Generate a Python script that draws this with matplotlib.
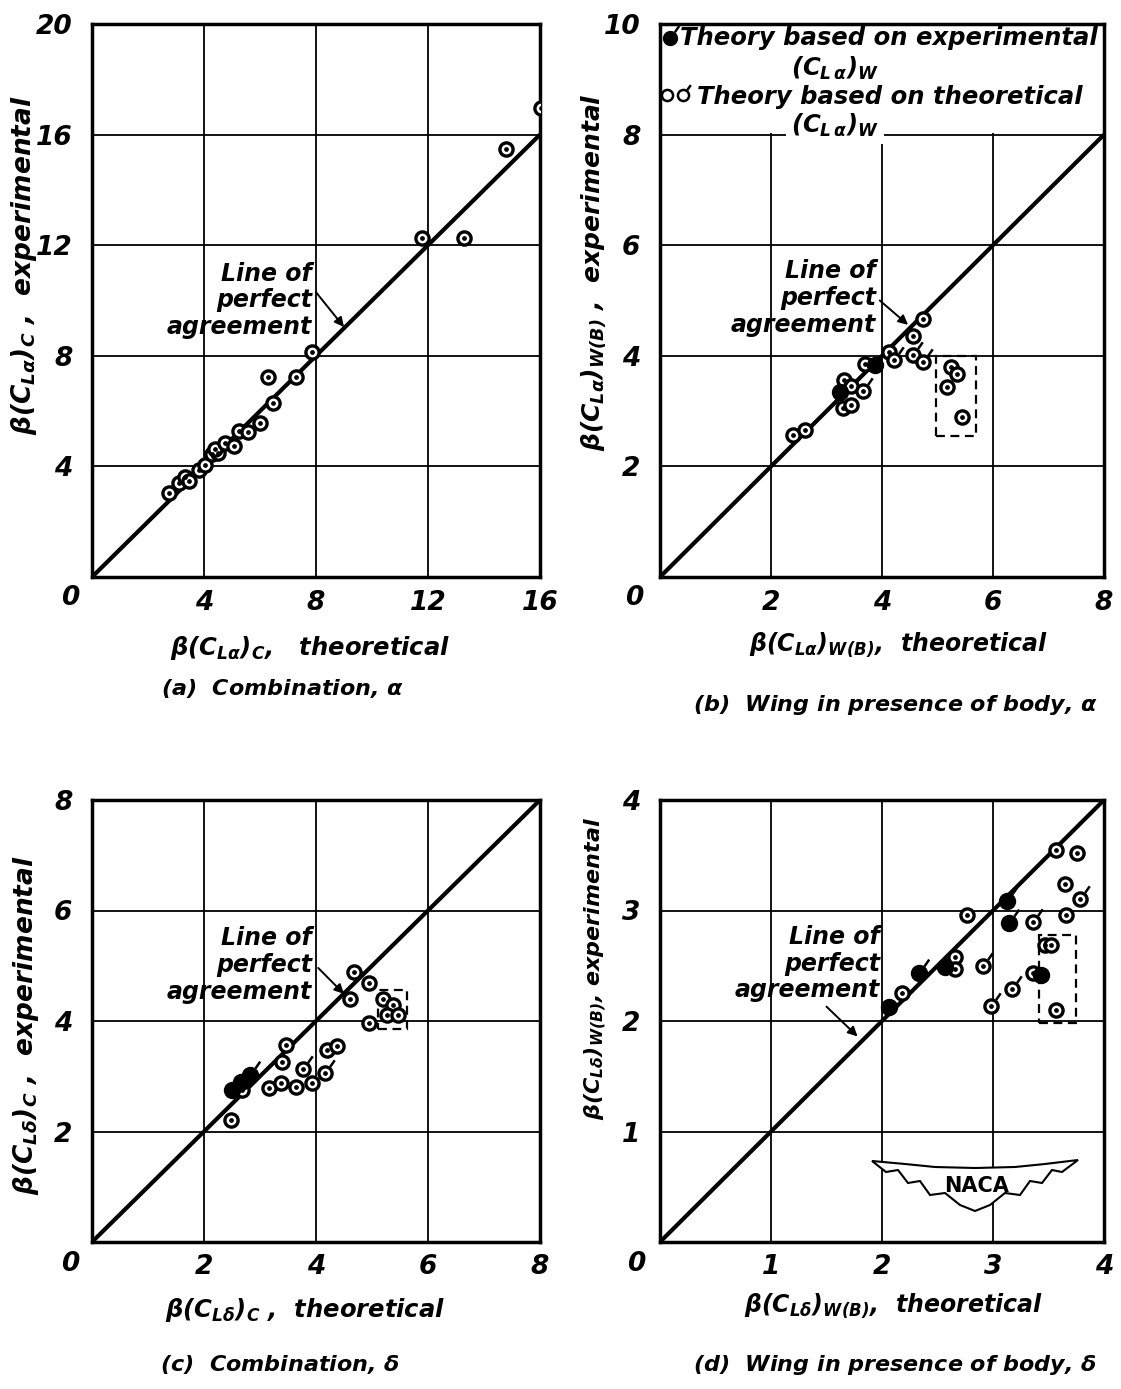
import numpy as np
import matplotlib
matplotlib.use("Agg")
import matplotlib.pyplot as plt
from matplotlib.path import Path
from matplotlib.patches import Rectangle, Polygon

plt.rcParams['font.family'] = ['DejaVu Sans']
plt.rcParams['font.style'] = 'italic'
plt.rcParams['font.weight'] = 'bold'
plt.rcParams['mathtext.fontset'] = 'custom'
plt.rcParams['mathtext.rm'] = 'DejaVu Sans:italic:bold'
plt.rcParams['mathtext.it'] = 'DejaVu Sans:italic:bold'
plt.rcParams['mathtext.bf'] = 'DejaVu Sans:italic:bold'

# ---------------- data ----------------
# (a) Combination, alpha
a_theo = [2.74, 3.12, 3.31, 3.45, 3.81, 4.05, 4.29, 4.50, 4.38, 4.76, 5.06, 5.24, 5.57,
          5.99, 6.27, 6.46, 7.29, 7.86, 11.77, 13.29, 14.77, 16.04]
a_exp = [3.05, 3.41, 3.63, 3.47, 3.87, 4.05, 4.45, 4.47, 4.62, 4.86, 4.75, 5.29, 5.24,
         5.56, 7.22, 6.28, 7.25, 8.15, 12.25, 12.25, 15.48, 16.95]

# (b) Wing in presence of body, alpha
b_open_theo = [2.40, 2.62, 3.30, 3.44, 3.32, 3.45, 3.65, 3.70, 4.13, 4.22, 4.55, 4.74,
               4.55, 4.74, 5.24, 5.36, 5.17, 5.45]
b_open_exp = [2.57, 2.66, 3.05, 3.11, 3.56, 3.45, 3.37, 3.85, 4.07, 3.92, 4.01, 3.88,
              4.35, 4.66, 3.80, 3.67, 3.44, 2.90]
b_open_flag = [0, 0, 0, 0, 0, 0, 1, 0, 0, 1, 1, 1, 0, 0, 0, 0, 0, 0]
b_fill_theo = [3.24, 3.87]
b_fill_exp = [3.35, 3.83]
b_fill_flag = [1, 0]
b_box = [4.98, 2.55, 5.69, 4.00]   # x0, y0, x1, y1

# (c) Combination, delta
c_open_theo = [2.49, 2.67, 3.39, 3.46, 3.16, 3.38, 3.65, 3.77, 3.92, 4.16, 4.19, 4.37,
               4.60, 4.67, 4.95, 4.95, 5.20, 5.37, 5.27, 5.47]
c_open_exp = [2.20, 2.76, 3.26, 3.57, 2.78, 2.87, 2.80, 3.13, 2.87, 3.06, 3.48, 3.55,
              4.40, 4.89, 4.69, 3.97, 4.40, 4.29, 4.10, 4.10]
c_open_flag = [0, 0, 0, 0, 0, 0, 0, 1, 0, 1, 0, 0, 0, 0, 0, 0, 0, 0, 0, 0]
c_fill_theo = [2.50, 2.66, 2.82]
c_fill_exp = [2.76, 2.90, 3.03]
c_fill_flag = [0, 0, 1]
c_box = [5.11, 3.85, 5.62, 4.56]

# (d) Wing in presence of body, delta
d_open_theo = [2.18, 2.66, 2.66, 2.77, 2.91, 2.98, 3.17, 3.36, 3.57, 3.76, 3.65, 3.78,
               3.66, 3.47, 3.52, 3.36, 3.57]
d_open_exp = [2.25, 2.58, 2.47, 2.96, 2.50, 2.14, 2.29, 2.90, 3.55, 3.52, 3.24, 3.10,
              2.96, 2.69, 2.69, 2.43, 2.10]
d_open_flag = [0, 0, 0, 0, 1, 1, 1, 1, 0, 0, 0, 1, 0, 0, 0, 0, 0]
d_fill_theo = [2.06, 2.33, 2.57, 3.13, 3.14, 3.43]
d_fill_exp = [2.13, 2.43, 2.49, 3.09, 2.89, 2.42]
d_fill_flag = [0, 1, 0, 1, 1, 0]
d_box = [3.41, 1.98, 3.75, 2.78]

# ---------------- layout helpers ----------------
W, H = 1121, 1389
fig = plt.figure(figsize=(W / 100, H / 100), dpi=100)


def fx(px):
    return px / W


def fy(py):
    return 1 - py / H


TICK_FS = 19
LAB_FS = 17.5
CAP_FS = 16
ANN_FS = 17

FLAG = Path([(0.35, 0.5), (0.70, 1.0)], [Path.MOVETO, Path.LINETO])


def setup(ax, lim_x, lim_y, step_x, step_y, diag_max):
    ax.set_xlim(0, lim_x)
    ax.set_ylim(0, lim_y)
    xt = np.arange(0, lim_x + 0.001, step_x)
    yt = np.arange(0, lim_y + 0.001, step_y)
    ax.set_xticks(xt)
    ax.set_yticks(yt)
    ax.set_xticklabels([""] + ["%g" % v for v in xt[1:]])
    ax.set_yticklabels([""] + ["%g" % v for v in yt[1:]])
    ax.tick_params(length=0, labelsize=TICK_FS)
    ax.tick_params(axis='x', pad=9)
    ax.tick_params(axis='y', pad=14)
    ax.grid(True, color='black', lw=1.3)
    ax.set_axisbelow(True)
    for s in ax.spines.values():
        s.set_linewidth(2.5)
    ax.plot([0, diag_max], [0, diag_max], color='black', lw=3, zorder=2,
            solid_capstyle='butt')


def draw_open(ax, xs, ys, flags=None):
    ax.plot(xs, ys, 'o', ms=9.5, mfc='white', mec='black', mew=2.4, zorder=4)
    ax.plot(xs, ys, 'o', ms=2.4, color='black', zorder=5)
    if flags is not None:
        fxs = [x for x, f in zip(xs, flags) if f]
        fys = [y for y, f in zip(ys, flags) if f]
        ax.plot(fxs, fys, ls='none', marker=FLAG, ms=19, mfc='none', mec='black',
                mew=1.8, zorder=4)


def draw_fill(ax, xs, ys, flags):
    ax.plot(xs, ys, 'o', ms=11.5, color='black', zorder=4)
    fxs = [x for x, f in zip(xs, flags) if f]
    fys = [y for y, f in zip(ys, flags) if f]
    ax.plot(fxs, fys, ls='none', marker=FLAG, ms=20, mfc='none', mec='black',
            mew=1.8, zorder=4)


def dashed_box(ax, box):
    x0, y0, x1, y1 = box
    ax.add_patch(Rectangle((x0, y0), x1 - x0, y1 - y0, fill=False, ls=(0, (4, 2.5)),
                           lw=1.6, ec='black', zorder=3))


def agreement(ax, txt_xy, start, tip):
    ax.text(txt_xy[0], txt_xy[1], "Line of\nperfect\nagreement", ha='right', va='center',
            multialignment='right', fontsize=ANN_FS, linespacing=1.15, zorder=6)
    ax.annotate("", xy=tip, xytext=start,
                arrowprops=dict(arrowstyle='-|>', lw=1.4, color='black',
                                mutation_scale=14, shrinkA=0, shrinkB=0), zorder=6)


# ---------------- panel (a) ----------------
axA = fig.add_axes([fx(92), fy(577), fx(540) - fx(92), fy(24) - fy(577)])
setup(axA, 16, 20, 4, 4, 16)
draw_open(axA, a_theo, a_exp)
agreement(axA, (7.86, 10.0), (8.0, 10.3), (9.0, 9.04))

# ---------------- panel (b) ----------------
axB = fig.add_axes([fx(660), fy(577), fx(1104) - fx(660), fy(24) - fy(577)])
setup(axB, 8, 10, 2, 2, 8)
axB.axhspan(8.03, 10, color='white', zorder=1.5, lw=0)
draw_open(axB, b_open_theo, b_open_exp, b_open_flag)
draw_fill(axB, b_fill_theo, b_fill_exp, b_fill_flag)
dashed_box(axB, b_box)
agreement(axB, (3.89, 5.05), (3.96, 5.0), (4.47, 4.56))

# legend of (b)
tr = axB.transAxes
LEG_FS = 17.5
axB.plot([0.022], [0.975], 'o', ms=10, color='black', transform=tr, clip_on=False, zorder=7)
axB.plot([0.022], [0.975], ls='none', marker=FLAG, ms=18, mfc='none', mec='black', mew=1.8,
         transform=tr, clip_on=False, zorder=7)
axB.text(0.045, 0.975, "Theory based on experimental", transform=tr, fontsize=LEG_FS,
         ha='left', va='center', zorder=7)
axB.text(0.394, 0.920, r"$(C_{L\,\alpha})_W$", transform=tr, fontsize=LEG_FS,
         ha='center', va='center', zorder=7)
axB.plot([0.015], [0.872], 'o', ms=8, mfc='white', mec='black', mew=1.8, transform=tr,
         clip_on=False, zorder=7)
axB.plot([0.052], [0.872], 'o', ms=8, mfc='white', mec='black', mew=1.8, transform=tr,
         clip_on=False, zorder=7)
axB.plot([0.052], [0.872], ls='none', marker=FLAG, ms=15, mfc='none', mec='black', mew=1.8,
         transform=tr, clip_on=False, zorder=7)
axB.text(0.083, 0.868, "Theory based on theoretical", transform=tr, fontsize=LEG_FS,
         ha='left', va='center', zorder=7)
axB.text(0.394, 0.816, r"$(C_{L\,\alpha})_W$", transform=tr, fontsize=LEG_FS,
         ha='center', va='center', zorder=7,
         bbox=dict(boxstyle='square,pad=0.2', fc='white', ec='none'))

# ---------------- panel (c) ----------------
axC = fig.add_axes([fx(92), fy(1242), fx(540) - fx(92), fy(800) - fy(1242)])
setup(axC, 8, 8, 2, 2, 8)
draw_open(axC, c_open_theo, c_open_exp, c_open_flag)
draw_fill(axC, c_fill_theo, c_fill_exp, c_fill_flag)
dashed_box(axC, c_box)
agreement(axC, (3.93, 5.01), (4.04, 4.96), (4.5, 4.49))

# ---------------- panel (d) ----------------
axD = fig.add_axes([fx(660), fy(1242), fx(1104) - fx(660), fy(800) - fy(1242)])
setup(axD, 4, 4, 1, 1, 4)
draw_open(axD, d_open_theo, d_open_exp, d_open_flag)
draw_fill(axD, d_fill_theo, d_fill_exp, d_fill_flag)
dashed_box(axD, d_box)
agreement(axD, (1.98, 2.52), (1.50, 2.13), (1.78, 1.86))

# NACA logo (decoration, axes-fraction coordinates)
logo_px = [(872, 1161), (905, 1164), (935, 1167), (975, 1168), (1015, 1167), (1045, 1164),
           (1078, 1160), (1062, 1172), (1052, 1170), (1042, 1183), (1030, 1181),
           (1020, 1195), (1005, 1193), (990, 1205), (975, 1211), (960, 1205), (945, 1193),
           (930, 1195), (920, 1181), (908, 1183), (898, 1170), (886, 1172)]
logo = [((px - 660) / 444, (1242 - py) / 442) for px, py in logo_px]
axD.add_patch(Polygon(logo, closed=True, fc='white', ec='black', lw=1.5,
                      transform=axD.transAxes, zorder=6))
axD.text((977 - 660) / 444, (1242 - 1186) / 442, "NACA", transform=axD.transAxes,
         fontsize=15, fontstyle='normal', fontweight='bold', ha='center', va='center',
         zorder=7)

# ---------------- corner zeros ----------------
for (px, py) in [(70, 598), (634, 598), (70, 1264), (636, 1264)]:
    fig.text(fx(px), fy(py), "0", fontsize=TICK_FS, ha='center', va='center')

# ---------------- axis labels ----------------
fig.text(fx(310), fy(648), r"$\beta(C_{L\alpha})_C$,   theoretical", fontsize=LAB_FS,
         ha='center', va='center')
fig.text(fx(898), fy(645), r"$\beta(C_{L\alpha})_{W(B)}$,  theoretical", fontsize=17,
         ha='center', va='center')
fig.text(fx(305), fy(1310), r"$\beta(C_{L\delta})_C$ ,  theoretical", fontsize=LAB_FS,
         ha='center', va='center')
fig.text(fx(893), fy(1306), r"$\beta(C_{L\delta})_{W(B)}$,  theoretical", fontsize=17,
         ha='center', va='center')

fig.text(fx(24), fy(265), r"$\beta(C_{L\alpha})_C$ ,  experimental", fontsize=19,
         ha='center', va='center', rotation=90)
fig.text(fx(594), fy(272), r"$\beta(C_{L\alpha})_{W(B)}$ ,  experimental", fontsize=18,
         ha='center', va='center', rotation=90)
fig.text(fx(26), fy(1025), r"$\beta(C_{L\delta})_C$ ,  experimental", fontsize=19,
         ha='center', va='center', rotation=90)
fig.text(fx(596), fy(968), r"$\beta(C_{L\delta})_{W(B)}$, experimental", fontsize=16,
         ha='center', va='center', rotation=90)

# ---------------- captions ----------------
fig.text(fx(283), fy(688), r"(a)  Combination, $\alpha$", fontsize=CAP_FS, ha='center',
         va='center')
fig.text(fx(895), fy(705), r"(b)  Wing in presence of body, $\alpha$", fontsize=CAP_FS,
         ha='center', va='center')
fig.text(fx(280), fy(1365), r"(c)  Combination, $\delta$", fontsize=CAP_FS, ha='center',
         va='center')
fig.text(fx(895), fy(1365), r"(d)  Wing in presence of body, $\delta$", fontsize=CAP_FS,
         ha='center', va='center')

fig.savefig("out.png", dpi=100, facecolor='white')
